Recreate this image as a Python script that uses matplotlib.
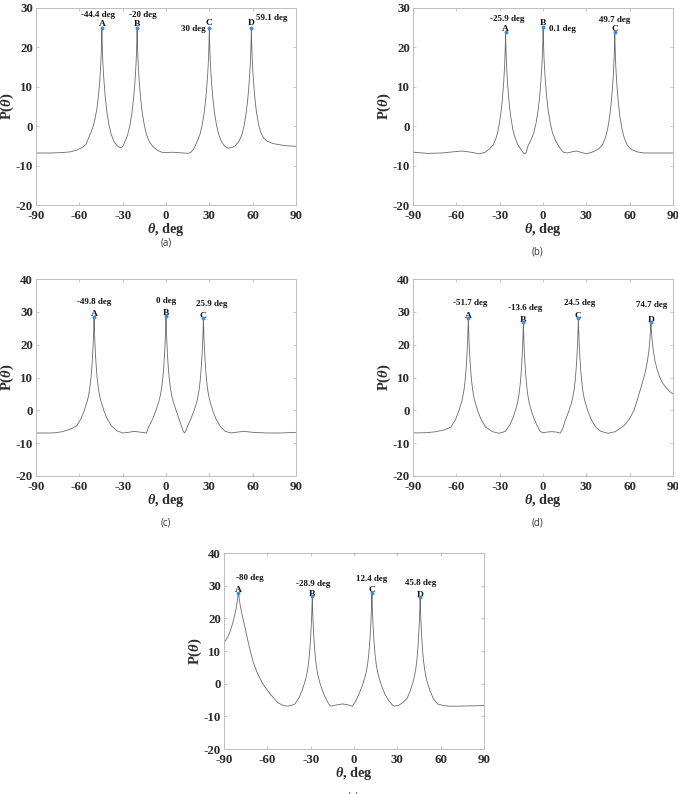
import matplotlib
matplotlib.use("Agg")
import matplotlib.pyplot as plt

plt.rcParams['font.family'] = ['Liberation Serif', 'DejaVu Sans']
plt.rcParams['mathtext.fontset'] = 'custom'
plt.rcParams['mathtext.rm'] = 'Liberation Serif:bold'
plt.rcParams['mathtext.it'] = 'Liberation Serif:italic:bold'
plt.rcParams['axes.unicode_minus'] = False

# ---------------- data ----------------
theta_a = [-90, -80, -72, -66, -62, -58, -55.4, -52.9, -50.9, -49.4, -47.9, -46.8, -46.0, -45.5, -45.1,
           -44.8, -44.6, -44.4, -44.2, -44.0, -43.7, -43.3, -42.8, -42.0, -40.9, -39.4, -37.9, -35.9,
           -33.4, -31.3, -29.8, -28.5, -26.5, -25, -23.5, -22.4, -21.6, -21.1, -20.7, -20.4, -20.2, -20.0,
           -19.8, -19.6, -19.3, -18.9, -18.4, -17.6, -16.5, -15, -13.5, -11.5, -9, -6, -3, 0, 4, 8, 12, 15,
           17, 19, 21.5, 23.5, 25, 26.5, 27.6, 28.4, 28.9, 29.3, 29.6, 29.8, 30, 30.2, 30.4, 30.7, 31.1,
           31.6, 32.4, 33.5, 35, 36.5, 38.5, 41, 43.4, 45.8, 48.1, 50.6, 52.6, 54.1, 55.6, 56.7, 57.5, 58.0,
           58.4, 58.7, 58.9, 59.1, 59.3, 59.5, 59.8, 60.2, 60.7, 61.5, 62.6, 64.1, 65.6, 67.6, 70, 74, 80,
           85, 90]
p_a = [-6.8, -6.8, -6.7, -6.5, -6.1, -5.4, -4.6, -2.4, -0.6, 1.4, 4.3, 7.6, 10.8, 13.5, 16.2,
       19.0, 21.5, 24.8, 21.5, 19.0, 16.2, 13.5, 10.8, 7.2, 3.6, 0.2, -2.1, -4.0,
       -5.1, -5.5, -5.1, -4.0, -2.1, 0.2, 3.6, 7.2, 10.8, 13.5, 16.2, 19.0, 21.5, 24.8,
       21.5, 19.0, 16.2, 13.5, 10.8, 7.2, 3.6, 0.2, -2.1, -4.0, -5.2, -6.1, -6.6, -6.7, -6.6, -6.7, -6.8, -6.9,
       -6.7, -5.9, -4.0, -2.1, 0.2, 3.6, 7.2, 10.8, 13.5, 16.2, 19.0, 21.5, 24.8, 21.5, 19.0, 16.2, 13.5,
       10.8, 7.2, 3.6, 0.2, -2.1, -4.0, -5.2, -5.6, -5.4, -4.9, -3.8, -2.1, 0.2, 3.6, 7.2, 10.8, 13.5,
       16.2, 19.0, 21.5, 24.8, 21.5, 19.0, 16.2, 13.5, 10.8, 7.2, 3.6, 0.4, -1.6, -3.0, -3.8, -4.4, -4.8,
       -5.0, -5.1]

theta_b = [-90, -80, -70, -62, -56, -50, -44, -40, -36.9, -34.4, -32.4, -30.9, -29.4, -28.3, -27.5, -27.0,
           -26.6, -26.3, -26.1, -25.9, -25.7, -25.5, -25.2, -24.8, -24.3, -23.5, -22.4, -20.9, -19.4,
           -17.4, -14.9, -13.6, -12.6, -11.6, -10.4, -8.4, -6.4, -4.9, -3.4, -2.3, -1.5, -1.0, -0.6, -0.3,
           -0.1, 0.1, 0.3, 0.5, 0.8, 1.2, 1.7, 2.5, 3.6, 5.1, 6.6, 8.6, 11.1, 14, 17, 20, 23, 26, 30, 33,
           36, 38.7, 41.2, 43.2, 44.7, 46.2, 47.3, 48.1, 48.6, 49.0, 49.3, 49.5, 49.7, 49.9, 50.1, 50.4,
           50.8, 51.3, 52.1, 53.2, 54.7, 56.2, 58.2, 60.7, 65, 70, 80, 90]
p_b = [-6.6, -6.9, -6.8, -6.5, -6.3, -6.6, -7.0, -6.6, -5.7, -4.7, -2.9, -0.8, 2.6, 6.2, 9.8, 12.5,
       15.2, 18.0, 20.5, 23.8, 20.5, 18.0, 15.2, 12.5, 9.8, 6.2, 2.6, -0.8, -2.9,
       -4.7, -6.1, -6.8, -7.0, -6.6, -5.0, -3.6, -1.7, 0.6, 4.0, 7.6, 11.2, 13.9, 16.6, 19.4,
       21.9, 25.2, 21.9, 19.4, 16.6, 13.9, 11.2, 7.6, 4.0, 0.6, -1.7, -3.6, -5.2, -6.6, -6.8, -6.5, -6.3, -6.6, -7.0, -6.7,
       -6.3, -5.7, -4.7, -2.9, -0.8, 2.6, 6.2, 9.8, 12.5, 15.2, 18.0, 20.5, 23.8, 20.5, 18.0, 15.2,
       12.5, 9.8, 6.2, 2.6, -0.8, -2.9, -4.7, -5.8, -6.5, -6.8, -6.8, -6.8]

theta_c = [-90, -80, -76, -72, -68, -65, -61.8, -58.8, -56.6, -54.8, -53.8, -52.8, -52.0, -51.4, -50.9,
           -50.5, -50.2, -50.0, -49.8, -49.6, -49.4, -49.1, -48.7, -48.2, -47.6, -46.8, -45.8, -44.8,
           -43.0, -40.8, -37.8, -34, -30, -26, -22, -17, -13.5, -12, -9, -6.8, -5, -4, -3, -2.2, -1.6, -1.1,
           -0.7, -0.4, -0.2, 0, 0.2, 0.4, 0.7, 1.1, 1.6, 2.2, 3.0, 4.0, 5.0, 6.8, 9, 10.5, 11.8, 12.7, 13.6,
           14.8, 16.9, 19.1, 20.9, 21.9, 22.9, 23.7, 24.3, 24.8, 25.2, 25.5, 25.7, 25.9, 26.1, 26.3, 26.6,
           27.0, 27.5, 28.1, 28.9, 29.9, 30.9, 32.7, 34.9, 37.9, 41, 45, 50, 54, 60, 70, 80, 90]
p_c = [-6.9, -6.9, -6.8, -6.5, -6.0, -5.5, -4.7, -2.5, -0.1, 2.4, 4.1, 6.6, 9.6, 12.7, 16.1,
       19.5, 22.5, 25.2, 28.5, 25.2, 22.5, 19.5, 16.1, 12.7, 9.6, 6.6, 4.1, 2.4,
       -0.1, -2.5, -4.7, -6.2, -6.9, -6.7, -6.4, -6.7, -6.9, -5.0, -2.4, 0.2, 2.7, 4.4, 6.9, 9.9, 13.0, 16.4,
       19.8, 22.8, 25.5, 28.8, 25.5, 22.8, 19.8, 16.4, 13.0, 9.9, 6.9, 4.4, 2.7, 0.2, -2.6, -4.6, -6.2, -6.9, -6.4,
       -5.0, -2.9, -0.5, 2.0, 3.7, 6.2, 9.2, 12.3, 15.7, 19.1, 22.1, 24.8, 28.1, 24.8, 22.1, 19.1,
       15.7, 12.3, 9.2, 6.2, 3.7, 2.0, -0.5, -2.9, -5.1, -6.4, -6.9, -6.6, -6.4, -6.7, -6.9, -6.9, -6.7]

theta_d = [-90, -80, -74, -68, -63.7, -60.7, -58.5, -56.7, -55.7, -54.7, -53.9, -53.3, -52.8, -52.4, -52.1,
           -51.9, -51.7, -51.5, -51.3, -51.0, -50.6, -50.1, -49.5, -48.7, -47.7, -46.7, -44.9, -42.7,
           -39.7, -35, -30.5, -26, -22.6, -20.4, -18.6, -17.6, -16.6, -15.8, -15.2, -14.7, -14.3, -14.0,
           -13.8, -13.6, -13.4, -13.2, -12.9, -12.5, -12.0, -11.4, -10.6, -9.6, -8.6, -6.8, -4.6, -2, 0, 3,
           6, 9, 11.9, 13.5, 15.5, 17.7, 19.5, 20.5, 21.5, 22.3, 22.9, 23.4, 23.8, 24.1, 24.3, 24.5, 24.7,
           24.9, 25.2, 25.6, 26.1, 26.7, 27.5, 28.5, 29.5, 31.3, 33.5, 36.5, 40, 45, 50, 53, 56.5, 60, 63,
           65.5, 67.5, 69.5, 71, 72.3, 73.3, 74.0, 74.4, 74.7, 75.0, 75.5, 76.3, 77.5, 79, 80.5, 82.5,
           85, 87.5, 90]
p_d = [-6.9, -6.8, -6.5, -5.9, -5.1, -2.9, -0.5, 2.0, 3.7, 6.2, 9.2, 12.3, 15.7, 19.1, 22.1,
       24.8, 28.1, 24.8, 22.1, 19.1, 15.7, 12.3, 9.2, 6.2, 3.7, 2.0, -0.5, -2.9,
       -5.1, -6.5, -7.0, -6.4, -4.2, -1.8, 0.7, 2.4, 4.9, 7.9, 11.0, 14.4, 17.8, 20.8,
       23.5, 26.8, 23.5, 20.8, 17.8, 14.4, 11.0, 7.9, 4.9, 2.4, 0.7, -1.8, -4.2, -6.4, -6.8, -6.6,
       -6.5, -6.6, -6.9, -5.8, -2.9, -0.5, 2.0, 3.7, 6.2, 9.2, 12.3, 15.7, 19.1, 22.1, 24.8, 28.1, 24.8,
       22.1, 19.1, 15.7, 12.3, 9.2, 6.2, 3.7, 2.0, -0.5, -2.9, -5.1, -6.4, -7.0, -6.5, -5.6, -4.5, -2.5, 0,
       3.5, 6.5, 9.5, 12.0, 15.0, 18.2, 21.5, 24, 26.8, 24.5, 21.5, 18.5, 15, 12.5, 10.5, 8.5,
       7.0, 5.8, 5.0]

theta_e = [-90, -88.5, -87, -85.5, -84, -83, -82, -81.2, -80.6, -80, -79.4, -78.7, -77.8, -76.8, -75.5,
           -74, -72.5, -71, -69.5, -67.5, -65, -62.3, -60, -57, -53, -49.5, -46.2, -43, -40.9, -37.9,
           -35.7, -33.9, -32.9, -31.9, -31.1, -30.5, -30.0, -29.6, -29.3, -29.1, -28.9, -28.7, -28.5,
           -28.2, -27.8, -27.3, -26.7, -25.9, -24.9, -23.9, -22.1, -19.9, -17.5, -16.2, -12, -8, -4, -1.2,
           0.8, 3.4, 5.6, 7.4, 8.4, 9.4, 10.2, 10.8, 11.3, 11.7, 12.0, 12.2, 12.4, 12.6, 12.8, 13.1, 13.5,
           14.0, 14.6, 15.4, 16.4, 17.4, 19.2, 21.4, 24.4, 26.5, 28.2, 31, 33.8, 36.8, 39, 40.8, 41.8, 42.8,
           43.6, 44.2, 44.7, 45.1, 45.4, 45.6, 45.8, 46.0, 46.2, 46.5, 46.9, 47.4, 48.0, 48.8, 49.8, 50.8,
           52.6, 54.8, 57.8, 62, 66, 70, 80, 90]
p_e = [12.6, 13.5, 14.7, 16.3, 18.5, 20.3, 22.2, 24, 26, 27.8, 25.8, 23.8, 21.8, 19.8, 17.2,
       14.2, 11.3, 8.6, 6.3, 3.9, 1.5, -0.6, -2.0, -3.7, -5.7, -6.6, -6.9, -6.6, -6.2, -4.2,
       -1.8, 0.7, 2.4, 4.9, 7.9, 11.0, 14.4, 17.8, 20.8, 23.5, 26.8, 23.5, 20.8,
       17.8, 14.4, 11.0, 7.9, 4.9, 2.4, 0.7, -1.8, -4.2, -6.2, -6.9, -6.5, -6.2, -6.5, -6.9,
       -5.6, -3.2, -0.8, 1.7, 3.4, 5.9, 8.9, 12.0, 15.4, 18.8, 21.8, 24.5, 27.8, 24.5, 21.8, 18.8, 15.4,
       12.0, 8.9, 5.9, 3.4, 1.7, -0.8, -3.2, -5.4, -6.5, -6.9, -6.6, -5.8, -4.5, -2.1, 0.4, 2.1, 4.6,
       7.6, 10.7, 14.1, 17.5, 20.5, 23.2, 26.5, 23.2, 20.5, 17.5, 14.1, 10.7, 7.6, 4.6, 2.1, 0.4,
       -2.1, -4.5, -6.2, -6.7, -6.9, -6.9, -6.8, -6.7]

peaks_a = [-44.4, -20, 30, 59.1]
peakp_a = [24.8, 24.8, 24.8, 24.8]
peaks_b = [-25.9, 0.1, 49.7]
peakp_b = [23.8, 25.2, 23.8]
peaks_c = [-49.8, 0, 25.9]
peakp_c = [28.5, 28.8, 28.1]
peaks_d = [-51.7, -13.6, 24.5, 74.7]
peakp_d = [28.1, 26.8, 28.1, 26.8]
peaks_e = [-80, -28.9, 12.4, 45.8]
peakp_e = [27.8, 26.8, 27.8, 26.5]

deg_labels_a = ['-44.4 deg', '-20 deg', '30 deg', '59.1 deg']
deg_labels_b = ['-25.9 deg', '0.1 deg', '49.7 deg']
deg_labels_c = ['-49.8 deg', '0 deg', '25.9 deg']
deg_labels_d = ['-51.7 deg', '-13.6 deg', '24.5 deg', '74.7 deg']
deg_labels_e = ['-80 deg', '-28.9 deg', '12.4 deg', '45.8 deg']
letters = ['A', 'B', 'C', 'D']
captions = ['(a)', '(b)', '(c)', '(d)', '(e)']
xticks = [-90, -60, -30, 0, 30, 60, 90]

# ---------------- layout / style ----------------
W, H = 678, 794
fig = plt.figure(figsize=(W / 100, H / 100), dpi=100)

def frac(l, t, r, b):
    return [l / W, 1 - b / H, (r - l) / W, (b - t) / H]

PX = 0.72  # points per pixel

panels = [
    dict(rect=frac(36, 8, 296, 205), th=theta_a, p=p_a, pk=peaks_a, pp=peakp_a, lab=deg_labels_a,
         ylim=(-20, 30), let_dy=[2.3, 2.3, 3.3, 3.0],
         off=[(-4, 11.3, 'center'), (6, 11.3, 'center'), (-3.7, -2.7, 'right'), (4.7, 8.3, 'left')],
         cap=(166, 243)),
    dict(rect=frac(413, 8, 673, 205), th=theta_b, p=p_b, pk=peaks_b, pp=peakp_b, lab=deg_labels_b,
         ylim=(-20, 30), let_dy=[1.0, 2.3, 1.7],
         off=[(2, 11, 'center'), (5.7, -3.7, 'left'), (0, 10.3, 'center')],
         cap=(537, 252)),
    dict(rect=frac(36, 279, 296, 476), th=theta_c, p=p_c, pk=peaks_c, pp=peakp_c, lab=deg_labels_c,
         ylim=(-20, 40), let_dy=[0.5, 0.5, 0.5],
         off=[(0, 12.7, 'center'), (0, 12.3, 'center'), (8.3, 11.7, 'center')],
         cap=(166, 523)),
    dict(rect=frac(413, 279, 673, 476), th=theta_d, p=p_d, pk=peaks_d, pp=peakp_d, lab=deg_labels_d,
         ylim=(-20, 40), let_dy=[0.5, 0.5, 0.5, 0.5],
         off=[(1.7, 13, 'center'), (1.7, 12.7, 'center'), (1.3, 13, 'center'), (0.3, 15, 'center')],
         cap=(537, 523)),
    dict(rect=frac(224, 553, 484, 749), th=theta_e, p=p_e, pk=peaks_e, pp=peakp_e, lab=deg_labels_e,
         ylim=(-20, 40), let_dy=[0.5, 0.5, 0.5, 0.5],
         off=[(11.3, 13.3, 'center'), (0.7, 10, 'center'), (0, 12.3, 'center'), (0.3, 11.7, 'center')],
         cap=(353, 797)),
]

frame_col = '#bdbdbd'
text_col = '#2b2b2b'

for i, P in enumerate(panels):
    ax = fig.add_axes(P['rect'])
    ax.plot(P['th'], P['p'], color='#6a6a6a', lw=0.6)
    ax.plot(P['pk'], P['pp'], 'o', color='#3d8fd6', ms=1.8, mec='#3d8fd6', zorder=5)
    ax.set_xlim(-90, 90)
    ax.set_ylim(*P['ylim'])
    ax.set_xticks(xticks)
    ax.set_yticks(list(range(P['ylim'][0], P['ylim'][1] + 1, 10)))
    for s in ax.spines.values():
        s.set_color(frame_col)
        s.set_linewidth(0.7)
    ax.tick_params(direction='in', length=2.5, width=0.6, color=frame_col, top=True, right=True,
                   labelsize=9.3, labelcolor=text_col)
    ax.tick_params(axis='x', pad=3.5)
    ax.tick_params(axis='y', pad=2)
    for t in ax.get_xticklabels() + ax.get_yticklabels():
        t.set_fontweight('bold')
    ax.set_xlabel(r'$\theta$, deg', fontsize=10.3, fontweight='bold', color=text_col)
    ax.set_ylabel(r'P($\theta$)', fontsize=10.5, fontweight='bold', color=text_col)
    ax.xaxis.set_label_coords(0.5, -0.083)
    ax.yaxis.set_label_coords(-0.077, 0.5)
    for j, (x, y) in enumerate(zip(P['pk'], P['pp'])):
        ax.annotate(letters[j], xy=(x, y), xytext=(0, P['let_dy'][j] * PX), textcoords='offset points',
                    ha='center', va='baseline', fontsize=6.8, fontweight='bold', color='#111111')
        dx, dy, ha = P['off'][j]
        ax.annotate(P['lab'][j], xy=(x, y), xytext=(dx * PX, dy * PX), textcoords='offset points',
                    ha=ha, va='baseline', fontsize=6.5, fontweight='bold', color='#111111')
    cx, cy = P['cap']
    fig.text(cx / W, 1 - cy / H, captions[i], ha='center', va='center', fontsize=7,
             family='Open Sans', color='#333333')

fig.savefig('out.png', dpi=100)
